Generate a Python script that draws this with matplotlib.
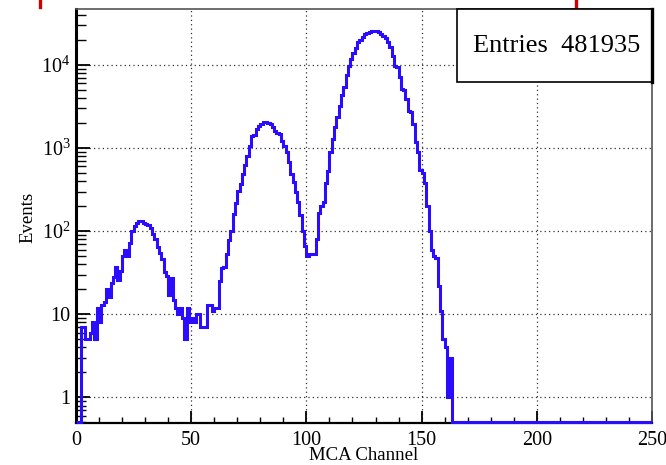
import numpy as np
import matplotlib
matplotlib.use("Agg")
import matplotlib.pyplot as plt
from matplotlib.ticker import FixedLocator, LogLocator, NullFormatter, MultipleLocator
from matplotlib.lines import Line2D
from matplotlib.patches import Rectangle

# ---- data (counts per MCA channel, channels 0..163; zero afterwards) ----
counts_low = [0, 0, 7, 7, 5, 5, 6, 8, 5, 12, 8, 13, 14, 20, 16, 24, 28, 37, 26, 33,
              50, 60, 50, 73, 100, 115, 127, 132, 132, 127, 123, 118, 110, 92, 80, 65,
              55, 46, 32, 29, 17, 27, 15, 12, 10, 12, 9, 5, 12, 8, 9, 8, 10, 10, 7, 7,
              7, 13, 13, 11, 12, 12]
counts_mid = [25, 36, 37, 53, 78, 100, 160, 220, 307, 370, 490, 620, 810, 1050, 1400,
              1450, 1700, 1860, 1950, 2050, 2050, 2000, 1950, 1800, 1600, 1500, 1480,
              1200, 1070, 890, 680, 490, 390, 295, 225, 155, 100, 66, 50, 53, 53, 53]
counts_high = [80, 166, 200, 225, 375, 530, 890, 1300, 1780, 2340, 3240, 4300, 5400,
               7500, 9700, 11800, 14000, 16000, 18600, 20000, 21500, 23200, 24500,
               25000, 25300, 25600, 25500, 25000, 23400, 22000, 21000, 18600, 16200,
               12800, 9800, 9500, 7200, 5100, 5000, 3900, 2800, 2750, 1950, 1180, 890,
               540, 500, 380, 200, 100, 60, 50, 48, 22, 11, 5, 4, 1, 3]
n_channels = 250
entries_text = "Entries  481935"
x_label = "MCA Channel"
y_label = "Events"
x_ticks = [0, 50, 100, 150, 200, 250]
y_ticks = [1, 10, 100, 1000, 10000]
y_ticklabels = ["1", "10", r"$10^2$", r"$10^3$", r"$10^4$"]

counts = np.zeros(n_channels)
data = counts_low + counts_mid + counts_high
counts[:len(data)] = data
edges = np.arange(n_channels + 1)

plt.rcParams['font.family'] = ['Liberation Serif', 'DejaVu Serif']
plt.rcParams['mathtext.fontset'] = 'custom'
plt.rcParams['mathtext.rm'] = 'Liberation Serif'
plt.rcParams['mathtext.it'] = 'Liberation Serif:italic'

fig = plt.figure(figsize=(6.66, 4.65), dpi=100)
ax = fig.add_axes([76/666, 1 - 422.5/465, (652 - 76)/666, (422.5 - 9)/465])

ymin, ymax = 0.5, 4.7e4
ax.set_yscale('log')
ax.set_xlim(0, 250)
ax.set_ylim(ymin, ymax)

vals = np.where(counts > 0, counts, ymin)
ax.stairs(vals, edges, baseline=None, color='#2a0cff', linewidth=2.2,
          clip_on=False, zorder=5)

# grid
ax.grid(True, which='major', linestyle=(0, (1, 2.5)), color='#333333', linewidth=0.9)

ax.xaxis.set_major_locator(FixedLocator(x_ticks))
ax.xaxis.set_minor_locator(MultipleLocator(10))
ax.set_xticklabels([str(t) for t in x_ticks])
ax.yaxis.set_major_locator(FixedLocator(y_ticks))
ax.set_yticklabels(y_ticklabels)
ax.yaxis.set_minor_locator(LogLocator(base=10, subs=np.arange(2, 10)))
ax.yaxis.set_minor_formatter(NullFormatter())

ax.tick_params(axis='both', which='both', direction='in', top=False, right=False,
               labelsize=14.5, colors='black')
ax.tick_params(axis='x', which='major', length=9, width=1.3, pad=6)
ax.tick_params(axis='x', which='minor', length=4, width=1.0)
ax.tick_params(axis='y', which='major', length=10, width=1.3, pad=4)
ax.tick_params(axis='y', which='minor', length=7, width=1.0)

ax.spines['left'].set_linewidth(2.2)
ax.spines['left'].set_color('black')
ax.spines['bottom'].set_linewidth(1.6)
ax.spines['bottom'].set_color('black')
ax.spines['top'].set_linewidth(1.2)
ax.spines['top'].set_color('#555555')
ax.spines['right'].set_linewidth(1.2)
ax.spines['right'].set_color('#555555')

ax.set_xlabel(x_label, fontsize=13.5, labelpad=0)
ax.xaxis.label.set_va('center')
ax.xaxis.set_label_coords(0.5, -0.079)
ax.set_ylabel(y_label, fontsize=13.5)
ax.yaxis.set_label_coords(-0.069, 0.497)

# stats box
bx0, by0, bx1, by1 = 457/666, 1 - 82/465, 652/666, 1 - 9/465
fig.patches.append(Rectangle((bx0, by0), bx1 - bx0, by1 - by0, transform=fig.transFigure,
                             facecolor='white', edgecolor='black', linewidth=1.2, zorder=10))
fig.lines.append(Line2D([bx1, bx1], [by0, by1], transform=fig.transFigure,
                        color='black', linewidth=2.4, zorder=11))
fig.text((bx0 + bx1) / 2 + 0.003, (by0 + by1) / 2, entries_text, fontsize=19,
         ha='center', va='center', zorder=12)

# red marks at top (cropping artefacts of the original slide)
for xp in (40, 576):
    fig.lines.append(Line2D([xp/666, xp/666], [1 - 7/465, 1.0], transform=fig.transFigure,
                            color='#d00000', linewidth=2.4))

fig.savefig('out.png', dpi=100)
